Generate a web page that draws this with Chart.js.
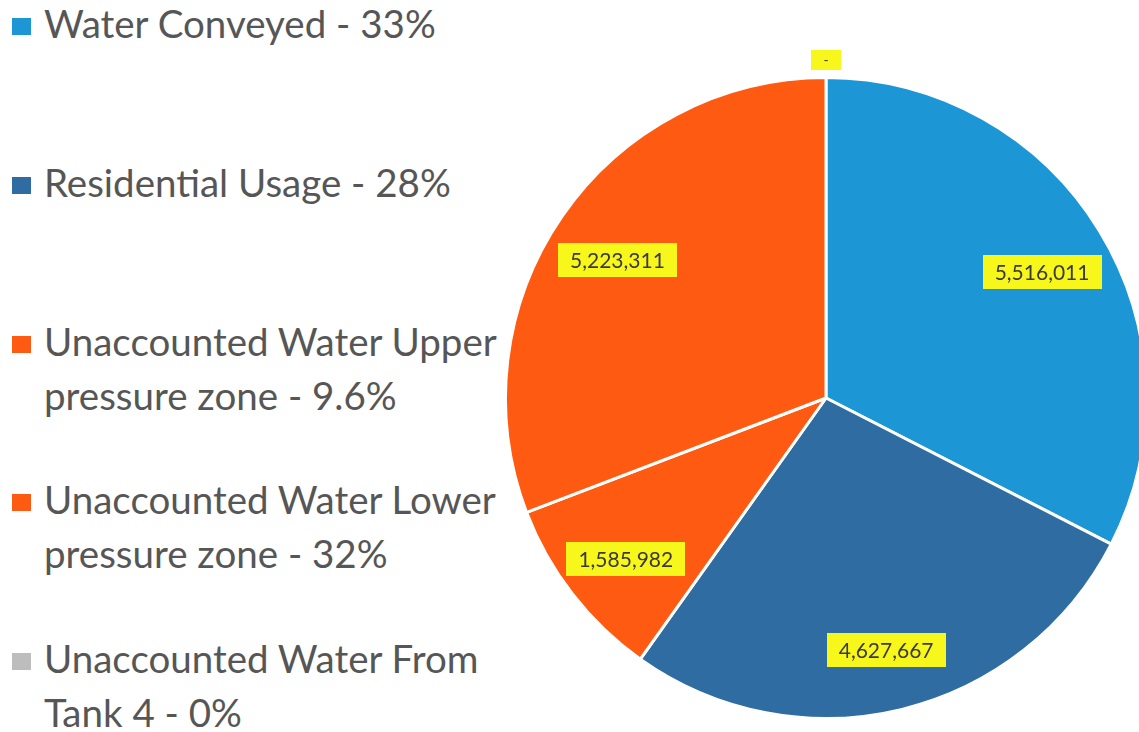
<!DOCTYPE html>
<html>
<head>
<meta charset="utf-8">
<script src="https://cdn.jsdelivr.net/npm/chart.js@4/dist/chart.umd.min.js"></script>
<style>
  html, body { margin:0; padding:0; background:#ffffff; overflow:hidden; width:1139px; height:732px; }
  #legend { position:absolute; left:0; top:-4px; z-index:1; font-family:Lato, "Open Sans", sans-serif; color:#565656; }
  .item { position:relative; height:158.75px; width:540px; }
  .item .mark { position:absolute; left:12px; top:22px; width:19px; height:17px; }
  .item .txt { position:absolute; left:44px; top:0; width:480px; font-size:38.5px; line-height:54px; }
  #wrap { position:absolute; left:0; top:0; width:1160px; height:732px; z-index:2; }
</style>
</head>
<body>
<div id="legend"></div>
<div id="wrap"><canvas id="c" width="1160" height="732"></canvas></div>
<script>
const categories = [
  'Water Conveyed',
  'Residential Usage',
  'Unaccounted Water Upper pressure zone',
  'Unaccounted Water Lower pressure zone',
  'Unaccounted Water From Tank 4'
];
const values = [5516011, 4627667, 1585982, 5223311, 0];
const legendPercents = ['33%', '28%', '9.6%', '32%', '0%'];
const valueLabels = ['5,516,011', '4,627,667', '1,585,982', '5,223,311', '-'];
const sliceColors = ['#1c96d5', '#2f6ca1', '#ff5a12', '#ff5a12', '#bdbdbd'];

// HTML legend built from the arrays
const legendEl = document.getElementById('legend');
categories.forEach((cat, i) => {
  const item = document.createElement('div');
  item.className = 'item';
  const mark = document.createElement('span');
  mark.className = 'mark';
  mark.style.background = sliceColors[i];
  const txt = document.createElement('div');
  txt.className = 'txt';
  txt.textContent = cat + ' - ' + legendPercents[i];
  item.appendChild(mark);
  item.appendChild(txt);
  legendEl.appendChild(item);
});

const valueLabelPlugin = {
  id: 'valueLabels',
  afterDatasetsDraw(chart) {
    const ctx = chart.ctx;
    const meta = chart.getDatasetMeta(0);
    ctx.save();
    meta.data.forEach((arc, i) => {
      const p = arc.getProps(['x', 'y', 'startAngle', 'endAngle', 'outerRadius'], true);
      const mid = (p.startAngle + p.endAngle) / 2;
      const zero = values[i] === 0;
      const r = zero ? p.outerRadius + 18 : p.outerRadius * 0.79;
      const x = p.x + Math.cos(mid) * r;
      const y = p.y + Math.sin(mid) * r + (zero ? 0 : 6);
      const txt = valueLabels[i];
      ctx.font = zero ? '14px Lato' : '21px Lato';
      const tw = ctx.measureText(txt).width;
      const bw = zero ? 30 : tw + 24;
      const bh = zero ? 20 : 34;
      ctx.fillStyle = '#f8f71c';
      ctx.fillRect(Math.round(x - bw / 2), Math.round(y - bh / 2), Math.round(bw), bh);
      ctx.fillStyle = '#3a3a3a';
      ctx.textAlign = 'center';
      ctx.textBaseline = 'middle';
      ctx.fillText(txt, x, y + 1);
    });
    ctx.restore();
  }
};

new Chart(document.getElementById('c'), {
  type: 'pie',
  data: {
    labels: categories,
    datasets: [{
      data: values,
      backgroundColor: sliceColors,
      borderColor: '#ffffff',
      borderWidth: 3
    }]
  },
  options: {
    responsive: false,
    animation: false,
    devicePixelRatio: 1,
    layout: { padding: { left: 504, right: 12, top: 76, bottom: 12 } },
    plugins: {
      legend: { display: false },
      tooltip: { enabled: false }
    }
  },
  plugins: [valueLabelPlugin]
});
</script>
</body>
</html>
